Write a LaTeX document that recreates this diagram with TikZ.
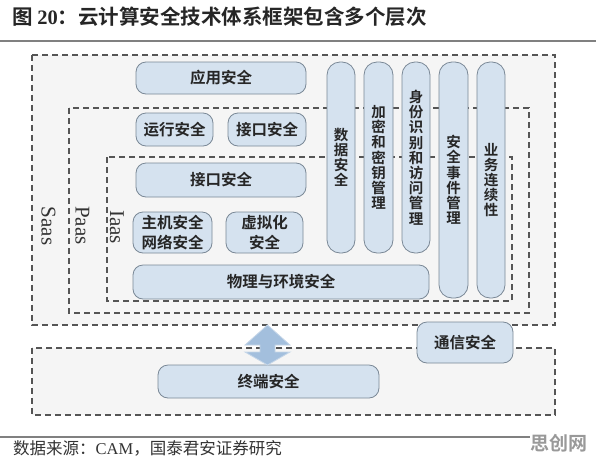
\documentclass[tikz,border=0pt]{standalone}
\usepackage{fontspec}
\newfontfamily\cjk{Noto Sans CJK SC}[BoldFont={Noto Sans CJK SC Bold}]
\newfontfamily\tms{Liberation Serif}
\definecolor{boxfill}{HTML}{D5E2EF}
\definecolor{boxline}{HTML}{7A8896}
\definecolor{dashc}{HTML}{555555}
\definecolor{arrfill}{HTML}{A3BFDD}
\definecolor{arrline}{HTML}{C5D6E8}
\begin{document}
\begin{tikzpicture}[x=1pt,y=-1pt,
  rb/.style={draw=boxline, fill=boxfill, line width=0.8pt, rounded corners=10pt,
    font=\cjk\bfseries\fontsize{15.5}{15}\selectfont, align=center, inner sep=0pt,
    text=black!85},
  vb/.style={rb, rounded corners=13pt, font=\cjk\bfseries\fontsize{14.5}{15.2}\selectfont},
  layer/.style={draw=dashc, line width=1.4pt, dash pattern=on 6pt off 4pt},
  lbl/.style={rotate=-90, font=\tms\fontsize{21}{21}\selectfont, inner sep=0pt, text=black!80}]
\useasboundingbox (0,0) rectangle (596,461);
\fill[white] (0,0) rectangle (596,461);
% title
\node[anchor=west, inner sep=0pt, font=\cjk\bfseries\fontsize{20.5}{20.5}\selectfont, text=black!85] (title) at (12,17) {图 {\tms\bfseries 20}：云计算安全技术体系框架包含多个层次};
\draw[gray, line width=1.5pt] (0,41) -- (596,41);
% layers
\fill[black!4] (32,55) rectangle (555,325);
\fill[black!4] (32,348) rectangle (555,415);
\draw[layer] (32,55) rectangle (555,325);
\draw[layer] (69,108) rectangle (529,313);
\draw[layer] (107,157) rectangle (512,301);
\draw[layer] (32,348) rectangle (555,415);
\node[lbl] (saas) at (48.5,226) {Saas};
\node[lbl] (paas) at (82.5,225.5) {Paas};
\node[lbl] (iaas) at (117,227) {Iaas};
% horizontal boxes
\node[rb, minimum width=170pt, minimum height=32pt] (app) at (221,78) {应用安全};
\node[rb, minimum width=77pt, minimum height=33pt] (run) at (174.5,129.5) {运行安全};
\node[rb, minimum width=78pt, minimum height=33pt] (if1) at (267,129.5) {接口安全};
\node[rb, minimum width=170pt, minimum height=34pt] (if2) at (221,180) {接口安全};
\node[rb, minimum width=79pt, minimum height=41pt, font=\cjk\bfseries\fontsize{15.5}{20}\selectfont] (host) at (172.5,232.5) {主机安全\\网络安全};
\node[rb, minimum width=77pt, minimum height=41pt, font=\cjk\bfseries\fontsize{15.5}{20}\selectfont] (virt) at (264.5,232.5) {虚拟化\\安全};
\node[rb, minimum width=296pt, minimum height=34pt] (phys) at (281,282) {物理与环境安全};
\node[rb, minimum width=221pt, minimum height=33pt] (term) at (268.5,381.5) {终端安全};
\node[rb, minimum width=96pt, minimum height=41pt] (comm) at (465,342.5) {通信安全};
% vertical boxes
\node[vb, minimum width=28pt, minimum height=191pt] (data) at (341,157.5) {数\\据\\安\\全};
\node[vb, minimum width=29pt, minimum height=191pt] (enc) at (378.5,157.5) {加\\密\\和\\密\\钥\\管\\理};
\node[vb, minimum width=28pt, minimum height=191pt] (idm) at (416,157.5) {身\\份\\识\\别\\和\\访\\问\\管\\理};
\node[vb, minimum width=29pt, minimum height=236pt] (evt) at (453.5,180) {安\\全\\事\\件\\管\\理};
\node[vb, minimum width=28pt, minimum height=236pt] (biz) at (491,180) {业\\务\\连\\续\\性};
% double arrow
\coordinate (atop) at (267.5,325);
\coordinate (abot) at (267.5,365);
\draw[arrline, fill=arrfill, line width=0.8pt, line join=miter]
  (atop) -- (290,345) -- (275,345) -- (275,352) -- (290,352) -- (abot)
  -- (245,352) -- (260,352) -- (260,345) -- (245,345) -- cycle;
% footer
\draw[gray, line width=1.5pt] (0,437) -- (530,437);
\node[anchor=west, inner sep=0pt, font=\cjk\fontsize{16.5}{16.5}\selectfont, text=black!80] (src) at (13,448) {数据来源：{\tms CAM}，国泰君安证券研究};
\node[anchor=west, inner sep=0pt, font=\cjk\bfseries\fontsize{19}{19}\selectfont, text=black!40] (wm) at (530,443) {思创网};
\end{tikzpicture}
\end{document}
